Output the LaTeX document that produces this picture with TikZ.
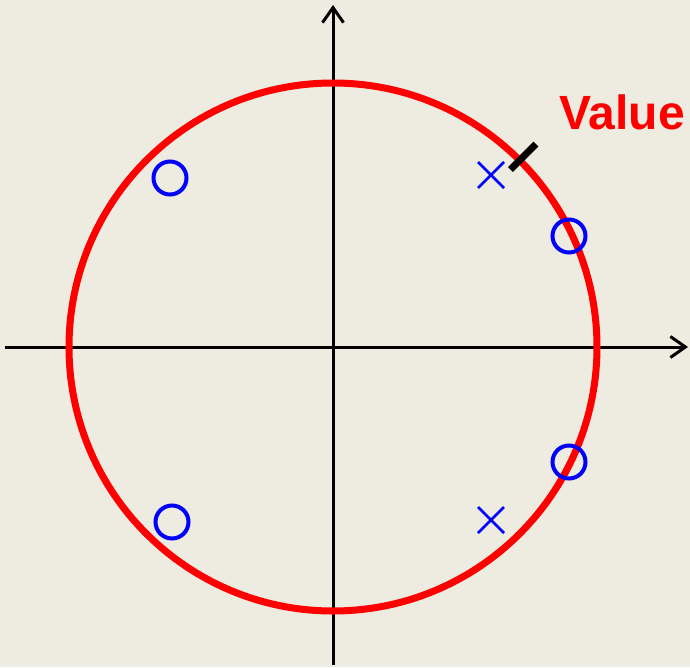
\documentclass[tikz,border=0pt]{standalone}
\usepackage{fontspec}
\setmainfont{Liberation Sans}
\usetikzlibrary{arrows.meta}
\definecolor{paper}{HTML}{EEEBE0}
\definecolor{ringred}{HTML}{FF0000}
\definecolor{rootblue}{HTML}{0000FF}

\begin{document}
\begin{tikzpicture}[
  x=1pt, y=1pt,
  axis/.style={line width=3pt, -{Straight Barb[length=15pt,width=21pt,line width=3pt]}},
  ring/.style={draw=ringred, line width=7pt},
  zero/.style={circle, draw=rootblue, line width=4pt, minimum size=33pt, inner sep=0pt},
  pole/.style={rootblue, line width=2.8pt},
  tickmark/.style={line width=7pt, black},
]

% background and frame
\fill[paper] (-333,-320) rectangle (357,347);
\useasboundingbox (-333,-320) rectangle (357,347);

% axes
\coordinate (xl) at (-328,0);
\coordinate (xr) at (355,0);
\coordinate (yb) at (0,-318);
\coordinate (yt) at (0,342);
\draw[axis] (xl) -- (xr);
\draw[axis] (yb) -- (yt);

% unit circle
\coordinate (origin) at (0,0);
\draw[ring] (origin) circle[radius=264];

% zeros
\node[zero] (z1) at (-163,169) {};
\node[zero] (z2) at (236,111) {};
\node[zero] (z3) at (236,-115) {};
\node[zero] (z4) at (-161,-175) {};

% poles
\foreach \name/\px/\py in {p1/158/172, p2/158/-173} {
  \coordinate (\name) at (\px,\py);
  \draw[pole] ([shift={(-13,-13)}]\name) -- ([shift={(13,13)}]\name);
  \draw[pole] ([shift={(-13,13)}]\name) -- ([shift={(13,-13)}]\name);
}

% value marker
\coordinate (vin) at (45:251);
\coordinate (vout) at (45:287);
\draw[tickmark] (vin) -- (vout);
\node[text=ringred, font=\bfseries\fontsize{48}{52}\selectfont] (val) at (289,235) {Value};

\end{tikzpicture}
\end{document}
